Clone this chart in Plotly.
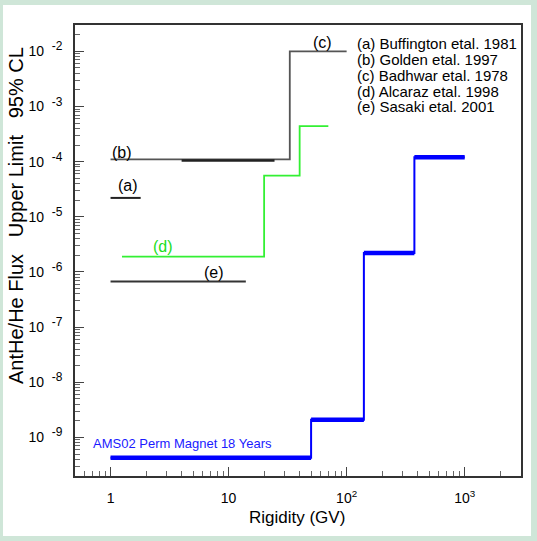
import numpy as np
import plotly.graph_objects as go

# ---------------- data ----------------
buffington_edges = [1.0, 1.8]
buffington_limits = [2.2e-5]

golden_edges = [4.0, 24.5]
golden_limits = [1.05e-4]

badhwar_edges = [1.0, 33.0, 100.0]
badhwar_limits = [1.1e-4, 1.0e-2]

alcaraz_edges = [1.25, 20.0, 40.0, 70.0]
alcaraz_limits = [1.9e-6, 5.6e-5, 4.4e-4]

sasaki_edges = [1.0, 14.0]
sasaki_limits = [6.7e-7]

ams_edges = [1.0, 50.0, 140.0, 375.0, 1000.0]
ams_limits = [4.3e-10, 2.1e-9, 2.2e-6, 1.2e-4]

legend_lines = ["(a) Buffington etal. 1981", "(b) Golden etal. 1997",
                "(c) Badhwar etal. 1978", "(d) Alcaraz etal. 1998",
                "(e) Sasaki etal. 2001"]

x_tickvals = [1, 10, 100, 1000]
x_ticktext = ["1", "10", "10<sup>2</sup>", "10<sup>3</sup>"]
y_exponents = [-9, -8, -7, -6, -5, -4, -3, -2]

# ---------------- helpers ----------------
def step(edges, levels):
    xs, ys = [], []
    for i, lv in enumerate(levels):
        xs += [edges[i], edges[i + 1]]
        ys += [lv, lv]
    return xs, ys

def flats(edges, levels):
    xs, ys = [], []
    for i, lv in enumerate(levels):
        xs += [edges[i], edges[i + 1], None]
        ys += [lv, lv, None]
    return xs, ys

W, H = 537, 541
L, R, T, B = 75, 16, 25, 65
PW, PH = W - L - R, H - T - B

def px(x):
    return (x - L) / PW

def py(y):
    return (H - B - y) / PH

FONT = "Liberation Sans, Arial, sans-serif"

fig = go.Figure()

def add_line(xs, ys, color, width):
    fig.add_trace(go.Scatter(x=xs, y=ys, mode="lines", line=dict(color=color, width=width),
                             hoverinfo="skip", showlegend=False))

add_line(*step(badhwar_edges, badhwar_limits), "#555555", 1.8)
add_line(*step(golden_edges, golden_limits), "#222222", 2.4)
add_line(*step(buffington_edges, buffington_limits), "#222222", 2)
add_line(*step(sasaki_edges, sasaki_limits), "#333333", 2)
add_line(*step(alcaraz_edges, alcaraz_limits), "#33f033", 1.8)
add_line(*step(ams_edges, ams_limits), "#0000ff", 2)
add_line(*flats(ams_edges, ams_limits), "#0000ff", 4.5)

ann = []
def text(x, y, s, size, color="black", xanchor="center"):
    ann.append(dict(x=px(x), y=py(y), xref="paper", yref="paper", text=s, showarrow=False,
                    xanchor=xanchor, yanchor="middle", font=dict(family=FONT, size=size, color=color)))

text(128, 185, "(a)", 16)
text(122, 152, "(b)", 16)
text(322, 42, "(c)", 16)
text(163, 247, "(d)", 16, "#22dd22")
text(214, 272, "(e)", 16)
for i, s in enumerate(legend_lines):
    text(355, 43 + i * 16, s, 15, xanchor="left")
text(91, 443, "AMS02 Perm Magnet 18 Years", 13, "#1a1aff", xanchor="left")
text(297, 517, "Rigidity (GV)", 17)
ann.append(dict(x=px(16), y=py(216), xref="paper", yref="paper",
                text="AntHe/He Flux\u00a0\u00a0\u00a0Upper Limit\u00a0\u00a0\u00a095% CL", textangle=-90,
                showarrow=False, xanchor="center", yanchor="middle",
                font=dict(family=FONT, size=20, color="black")))

axis_common = dict(type="log", showline=True, mirror=True, linecolor="#333333", linewidth=1.5,
                   ticks="inside", ticklen=9, tickwidth=1, tickcolor="#444444",
                   showgrid=False, zeroline=False, tickmode="array",
                   tickfont=dict(family=FONT, size=14, color="black"),
                   minor=dict(ticks="inside", ticklen=5, tickwidth=1, tickcolor="#666666",
                              dtick="D1", showgrid=False))

fig.update_layout(
    width=W, height=H,
    margin=dict(l=L, r=R, t=T, b=B),
    paper_bgcolor="#cfe6d8", plot_bgcolor="white",
    xaxis=dict(axis_common, range=[np.log10(0.5), np.log10(3000)],
               tickvals=x_tickvals, ticktext=x_ticktext, ticklabelstandoff=8),
    yaxis=dict(axis_common, range=[np.log10(2e-10), np.log10(3e-2)],
               tickvals=[10.0 ** e for e in y_exponents],
               ticktext=["10\u00a0\u00a0<sup><span style='font-size:12px'>%d</span></sup>" % e
                         for e in y_exponents], ticklabelstandoff=8),
    annotations=ann,
    shapes=[dict(type="rect", xref="paper", yref="paper", layer="below",
                 x0=px(3), x1=px(531), y0=py(536), y1=py(5),
                 fillcolor="white", line=dict(width=0))],
)

fig.write_html("out.html", config={"displayModeBar": False},
               post_script="document.body.style.margin='0';document.body.style.overflow='hidden';")
